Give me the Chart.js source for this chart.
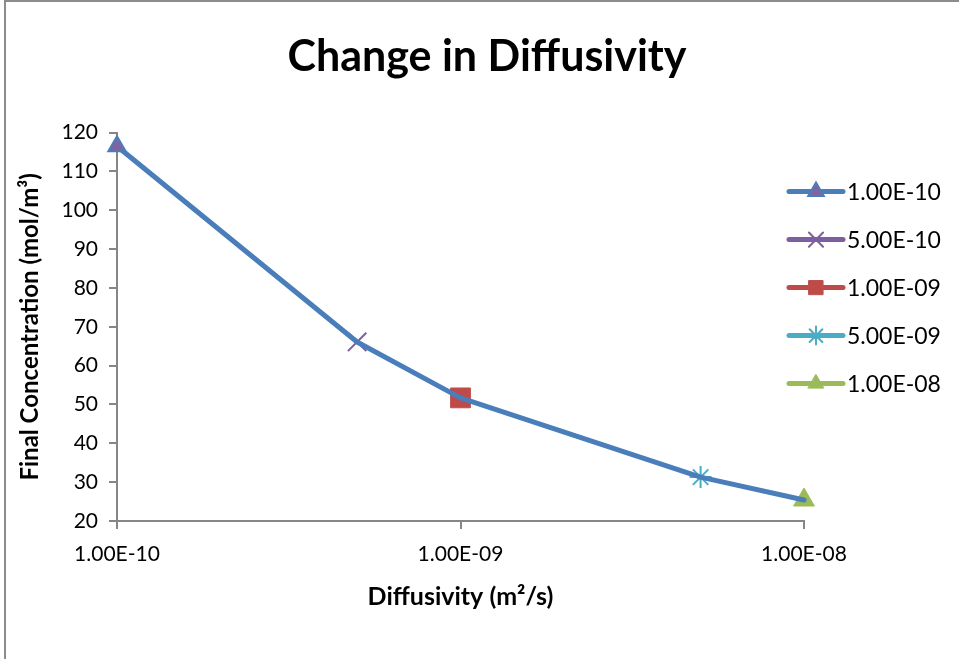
<!DOCTYPE html>
<html>
<head>
<meta charset="utf-8">
<title>Change in Diffusivity</title>
<script src="https://cdn.jsdelivr.net/npm/chart.js@4.4.0/dist/chart.umd.min.js"></script>
<style>
  html, body { margin: 0; padding: 0; background: #fff; }
  #marco { position: relative; width: 959px; height: 659px; overflow: hidden; }
  #borde { position: absolute; left: 4px; top: 0; width: 1000px; height: 720px; border: 2px solid #8c8c8c; box-sizing: border-box; }
  #grafico { position: absolute; left: 0; top: 0; }
</style>
</head>
<body>
<div id="marco">
  <div id="borde"></div>
  <canvas id="grafico" width="959" height="659"></canvas>
</div>
<script>
// Datos
const diffusivity = [1e-10, 5e-10, 1e-9, 5e-9, 1e-8];
const concentration = [116.5, 66.1, 51.7, 31.3, 25.4];
const seriesLabels = ['1.00E-10', '5.00E-10', '1.00E-09', '5.00E-09', '1.00E-08'];
const xTicks = [1e-10, 1e-9, 1e-8];
const xTickLabels = ['1.00E-10', '1.00E-09', '1.00E-08'];
const yTicks = [20, 30, 40, 50, 60, 70, 80, 90, 100, 110, 120];

// Estilo de cada serie (colores tipo Excel)
const colores = ['#4A7EBB', '#7D5FA0', '#BE4B48', '#4BACC6', '#9BBB59'];
const marcadores = [
  { estilo: 'triangle', radio: 10, radioLeyenda: 9, fondo: '#8064A2', borde: '#4A7EBB', grosor: 2 },
  { estilo: 'crossRot', radio: 13, radioLeyenda: 10, fondo: '#7D5FA0', borde: '#7D5FA0', grosor: 2 },
  { estilo: 'rect', radio: 14, radioLeyenda: 10, fondo: '#BE4B48', borde: '#C0504D', grosor: 1 },
  { estilo: 'star', radio: 11, radioLeyenda: 9, fondo: '#4BACC6', borde: '#4BACC6', grosor: 2 },
  { estilo: 'triangle', radio: 12, radioLeyenda: 9, fondo: '#9BBB59', borde: '#9BBB59', grosor: 1 }
];

const fuente = 'Lato';
Chart.defaults.font.family = fuente;

// Serie 0 lleva la linea azul por todos los puntos; las demas solo su marcador
const datasets = seriesLabels.map((label, i) => {
  const m = marcadores[i];
  if (i === 0) {
    return {
      label: label,
      data: diffusivity.map((d, k) => ({ x: d, y: concentration[k] })),
      clip: false,
      borderColor: colores[0],
      borderWidth: 5,
      borderCapStyle: 'round',
      borderJoinStyle: 'round',
      tension: 0,
      pointStyle: m.estilo,
      pointRadius: ctx => ctx.dataIndex === 0 ? m.radio : 0,
      pointBackgroundColor: m.fondo,
      pointBorderColor: m.borde,
      pointBorderWidth: m.grosor
    };
  }
  return {
    label: label,
    data: [{ x: diffusivity[i], y: concentration[i] }],
    clip: false,
    showLine: false,
    borderColor: colores[i],
    pointStyle: m.estilo,
    pointRadius: m.radio,
    pointBackgroundColor: m.fondo,
    pointBorderColor: m.borde,
    pointBorderWidth: m.grosor
  };
});

// Leyenda al estilo Excel: linea + marcador + texto
const leyendaExcel = {
  id: 'leyendaExcel',
  afterDraw(chart) {
    const ctx = chart.ctx;
    const x0 = chart.chartArea.right - 15;
    const y0 = chart.chartArea.top + 59;
    chart.data.datasets.forEach((ds, i) => {
      const y = y0 + i * 48;
      const m = marcadores[i];
      ctx.save();
      ctx.strokeStyle = colores[i];
      ctx.lineWidth = 5;
      ctx.lineCap = 'round';
      ctx.beginPath();
      ctx.moveTo(x0, y);
      ctx.lineTo(x0 + 54, y);
      ctx.stroke();
      ctx.fillStyle = m.fondo;
      ctx.strokeStyle = m.borde;
      ctx.lineWidth = m.grosor;
      Chart.helpers.drawPoint(ctx, { pointStyle: m.estilo, radius: m.radioLeyenda, borderWidth: m.grosor, rotation: 0 }, x0 + 27, y);
      ctx.fillStyle = '#000';
      ctx.font = '23px ' + fuente;
      ctx.textBaseline = 'middle';
      ctx.textAlign = 'left';
      ctx.fillText(ds.label, x0 + 58, y + 1);
      ctx.restore();
    });
  }
};

const ejeColor = '#868686';

new Chart(document.getElementById('grafico'), {
  type: 'line',
  data: { datasets: datasets },
  plugins: [leyendaExcel],
  options: {
    responsive: false,
    animation: false,
    events: [],
    layout: { padding: { left: 15, right: 0, top: 0, bottom: 0 } },
    plugins: {
      legend: { display: false },
      tooltip: { enabled: false },
      title: {
        display: true,
        text: 'Change in Diffusivity',
        color: '#000',
        font: { family: fuente, size: 43, weight: 'bold' },
        padding: { top: 31, bottom: 50 }
      }
    },
    scales: {
      x: {
        type: 'logarithmic',
        min: 1e-10,
        max: 1e-8,
        afterBuildTicks: s => { s.ticks = xTicks.map(v => ({ value: v })); },
        afterFit: s => { s.height = 138; s.paddingRight = 155; },
        ticks: {
          callback: (v, i) => xTickLabels[i],
          color: '#000',
          font: { size: 21 },
          padding: 13,
          maxRotation: 0,
          autoSkip: false
        },
        grid: { drawOnChartArea: false, tickLength: 8, color: ejeColor, lineWidth: 2 },
        border: { color: ejeColor, width: 2 },
        title: {
          display: true,
          text: 'Diffusivity (m²/s)',
          color: '#000',
          font: { size: 25, weight: 'bold' },
          padding: { top: 10, bottom: 47 }
        }
      },
      y: {
        min: 20,
        max: 120,
        afterBuildTicks: s => { s.ticks = yTicks.map(v => ({ value: v })); },
        afterFit: s => { s.width = 102; },
        ticks: { color: '#000', font: { size: 21 }, padding: 11 },
        grid: { drawOnChartArea: false, tickLength: 8, color: ejeColor, lineWidth: 2 },
        border: { color: ejeColor, width: 2 },
        title: {
          display: true,
          text: 'Final Concentration (mol/m³)',
          color: '#000',
          font: { size: 24, weight: 'bold' },
          padding: { top: 1, bottom: 0 }
        }
      }
    }
  }
});
</script>
</body>
</html>
